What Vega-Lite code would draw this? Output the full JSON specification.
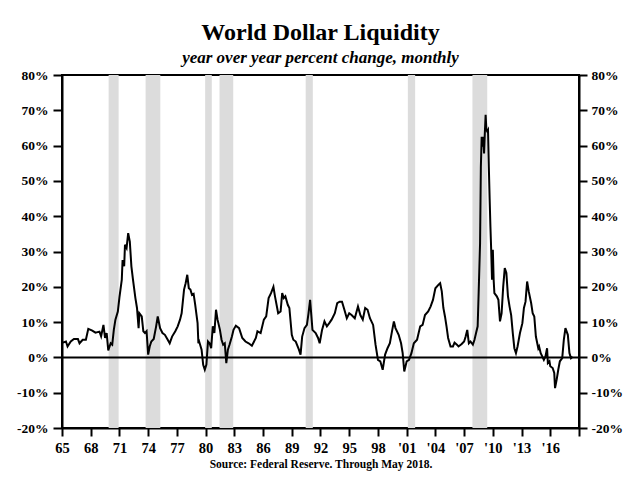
{
  "$schema": "https://vega.github.io/schema/vega-lite/v6.json",
  "width": 517,
  "height": 353,
  "autosize": {"type": "none"},
  "padding": {"left": 62, "top": 75, "right": 45, "bottom": 55},
  "background": "white",
  "config": {"view": {"stroke": "black", "strokeWidth": 2}, "font": "Liberation Serif"},
  "title": {
    "text": "World Dollar Liquidity",
    "subtitle": "year over year percent change, monthly",
    "font": "Liberation Serif", "fontSize": 24, "fontWeight": "bold", "color": "black",
    "subtitleFont": "Liberation Serif", "subtitleFontSize": 17, "subtitleFontStyle": "italic", "subtitleFontWeight": "bold", "subtitleColor": "black",
    "anchor": "middle", "offset": 2, "subtitlePadding": 5
  },
  "datasets": {
    "rec": [
      {"start": "1969-11-15", "end": "1970-12-01"},
      {"start": "1973-09-25", "end": "1975-04-10"},
      {"start": "1979-12-15", "end": "1980-08-25"},
      {"start": "1981-06-15", "end": "1982-11-20"},
      {"start": "1990-06-15", "end": "1991-03-15"},
      {"start": "2001-02-15", "end": "2001-11-20"},
      {"start": "2007-11-15", "end": "2009-06-01"}
    ],
    "series": [
      {"d":"1965-01","v":4.1},{"d":"1965-06","v":4.5},{"d":"1965-08","v":3.1},{"d":"1965-12","v":4.5},
      {"d":"1966-04","v":5.2},{"d":"1966-09","v":5.2},{"d":"1966-11","v":4.0},{"d":"1967-03","v":5.0},
      {"d":"1967-07","v":5.0},{"d":"1967-10","v":8.1},{"d":"1968-03","v":7.6},{"d":"1968-07","v":7.0},
      {"d":"1968-12","v":7.3},{"d":"1969-02","v":6.0},{"d":"1969-05","v":9.2},{"d":"1969-07","v":5.5},
      {"d":"1969-09","v":6.9},{"d":"1969-11","v":2.0},{"d":"1970-02","v":4.0},{"d":"1970-04","v":3.6},
      {"d":"1970-06","v":7.8},{"d":"1970-08","v":10.7},{"d":"1970-11","v":13.0},{"d":"1971-01","v":17.0},
      {"d":"1971-04","v":22.0},{"d":"1971-05","v":27.6},{"d":"1971-07","v":25.8},{"d":"1971-08","v":31.9},
      {"d":"1971-10","v":31.0},{"d":"1971-12","v":35.2},{"d":"1972-02","v":32.8},{"d":"1972-04","v":25.8},
      {"d":"1972-06","v":22.0},{"d":"1972-09","v":16.8},{"d":"1972-11","v":14.0},{"d":"1973-01","v":8.3},
      {"d":"1973-02","v":12.5},{"d":"1973-05","v":11.6},{"d":"1973-07","v":7.4},{"d":"1973-09","v":6.9},
      {"d":"1973-11","v":7.4},{"d":"1974-01","v":0.8},{"d":"1974-03","v":3.1},{"d":"1974-05","v":4.5},
      {"d":"1974-08","v":5.2},{"d":"1974-11","v":8.8},{"d":"1975-01","v":11.6},{"d":"1975-04","v":8.3},
      {"d":"1975-07","v":6.9},{"d":"1975-10","v":6.4},{"d":"1976-01","v":5.2},{"d":"1976-04","v":4.0},
      {"d":"1976-07","v":5.9},{"d":"1976-11","v":7.4},{"d":"1977-02","v":8.8},{"d":"1977-05","v":10.7},
      {"d":"1977-07","v":12.5},{"d":"1977-10","v":19.2},{"d":"1977-12","v":21.0},{"d":"1978-02","v":23.4},
      {"d":"1978-04","v":19.6},{"d":"1978-06","v":19.2},{"d":"1978-08","v":17.7},{"d":"1978-10","v":18.0},
      {"d":"1978-12","v":14.9},{"d":"1979-03","v":9.7},{"d":"1979-04","v":4.0},{"d":"1979-05","v":4.5},
      {"d":"1979-08","v":2.2},{"d":"1979-10","v":-2.1},{"d":"1979-12","v":-3.5},{"d":"1980-02","v":-2.0},
      {"d":"1980-04","v":4.5},{"d":"1980-06","v":4.0},{"d":"1980-08","v":2.6},{"d":"1980-10","v":8.8},
      {"d":"1980-12","v":6.9},{"d":"1981-02","v":13.5},{"d":"1981-04","v":10.7},{"d":"1981-07","v":7.8},
      {"d":"1981-09","v":5.0},{"d":"1981-11","v":3.6},{"d":"1982-01","v":4.0},{"d":"1982-03","v":-1.6},
      {"d":"1982-05","v":2.2},{"d":"1982-07","v":3.6},{"d":"1982-10","v":5.9},{"d":"1982-12","v":7.8},
      {"d":"1983-03","v":9.0},{"d":"1983-07","v":8.3},{"d":"1983-11","v":5.5},{"d":"1984-03","v":4.5},
      {"d":"1984-07","v":4.0},{"d":"1984-11","v":3.3},{"d":"1985-04","v":5.5},{"d":"1985-06","v":7.4},
      {"d":"1985-10","v":6.9},{"d":"1986-02","v":10.7},{"d":"1986-05","v":11.6},{"d":"1986-08","v":16.8},
      {"d":"1986-11","v":18.2},{"d":"1987-02","v":20.0},{"d":"1987-04","v":17.3},{"d":"1987-08","v":12.5},
      {"d":"1987-11","v":13.0},{"d":"1988-01","v":18.2},{"d":"1988-03","v":16.8},{"d":"1988-05","v":17.3},
      {"d":"1988-08","v":14.9},{"d":"1988-10","v":14.0},{"d":"1989-01","v":6.4},{"d":"1989-03","v":5.0},
      {"d":"1989-06","v":4.5},{"d":"1989-10","v":2.2},{"d":"1989-12","v":0.8},{"d":"1990-02","v":5.9},
      {"d":"1990-05","v":8.3},{"d":"1990-08","v":9.2},{"d":"1990-10","v":12.5},{"d":"1990-12","v":16.3},
      {"d":"1991-03","v":7.8},{"d":"1991-07","v":6.9},{"d":"1991-10","v":5.5},{"d":"1991-12","v":4.0},
      {"d":"1992-03","v":7.8},{"d":"1992-06","v":10.2},{"d":"1992-09","v":8.8},{"d":"1992-12","v":9.7},
      {"d":"1993-03","v":10.7},{"d":"1993-07","v":12.5},{"d":"1993-10","v":15.4},{"d":"1994-01","v":15.8},
      {"d":"1994-04","v":15.8},{"d":"1994-07","v":13.5},{"d":"1994-10","v":11.1},{"d":"1995-01","v":12.5},
      {"d":"1995-04","v":12.0},{"d":"1995-08","v":11.1},{"d":"1995-12","v":14.4},{"d":"1996-03","v":12.0},
      {"d":"1996-06","v":10.7},{"d":"1996-09","v":14.0},{"d":"1996-12","v":13.5},{"d":"1997-03","v":11.1},
      {"d":"1997-07","v":9.2},{"d":"1997-10","v":3.6},{"d":"1998-01","v":-0.7},{"d":"1998-04","v":-1.1},
      {"d":"1998-07","v":-3.5},{"d":"1998-10","v":0.8},{"d":"1999-01","v":2.6},{"d":"1999-04","v":4.0},
      {"d":"1999-07","v":7.8},{"d":"1999-09","v":10.2},{"d":"1999-11","v":8.3},{"d":"2000-03","v":6.4},
      {"d":"2000-06","v":4.0},{"d":"2000-08","v":1.2},{"d":"2000-10","v":-4.0},{"d":"2001-01","v":-1.1},
      {"d":"2001-04","v":-0.7},{"d":"2001-07","v":1.2},{"d":"2001-10","v":4.0},{"d":"2002-02","v":5.0},
      {"d":"2002-06","v":8.8},{"d":"2002-09","v":9.2},{"d":"2002-12","v":12.0},{"d":"2003-04","v":13.0},
      {"d":"2003-07","v":14.4},{"d":"2003-10","v":16.3},{"d":"2004-01","v":19.6},{"d":"2004-05","v":20.6},
      {"d":"2004-07","v":21.0},{"d":"2004-09","v":18.7},{"d":"2004-11","v":14.0},{"d":"2005-01","v":11.6},
      {"d":"2005-03","v":8.8},{"d":"2005-05","v":5.5},{"d":"2005-08","v":3.1},{"d":"2005-11","v":3.1},
      {"d":"2006-01","v":4.2},{"d":"2006-04","v":3.6},{"d":"2006-06","v":3.1},{"d":"2006-10","v":3.8},
      {"d":"2007-01","v":4.5},{"d":"2007-03","v":5.9},{"d":"2007-05","v":7.8},{"d":"2007-07","v":4.0},
      {"d":"2007-09","v":4.5},{"d":"2007-12","v":3.6},{"d":"2008-02","v":5.0},{"d":"2008-04","v":6.9},
      {"d":"2008-06","v":8.8},{"d":"2008-07","v":16.3},{"d":"2008-09","v":32.4},{"d":"2008-10","v":54.0},
      {"d":"2008-11","v":62.5},{"d":"2008-12","v":59.7},{"d":"2009-01","v":62.5},{"d":"2009-02","v":57.8},
      {"d":"2009-03","v":63.5},{"d":"2009-04","v":68.7},{"d":"2009-05","v":64.4},{"d":"2009-06","v":64.0},
      {"d":"2009-07","v":64.4},{"d":"2009-08","v":54.0},{"d":"2009-09","v":45.0},{"d":"2009-10","v":37.0},
      {"d":"2009-11","v":30.0},{"d":"2009-12","v":22.0},{"d":"2010-01","v":30.5},{"d":"2010-02","v":22.0},
      {"d":"2010-03","v":18.2},{"d":"2010-06","v":17.3},{"d":"2010-08","v":16.3},{"d":"2010-10","v":10.2},
      {"d":"2010-12","v":12.5},{"d":"2011-02","v":20.1},{"d":"2011-04","v":25.3},{"d":"2011-06","v":23.9},
      {"d":"2011-08","v":17.3},{"d":"2011-10","v":14.4},{"d":"2011-12","v":12.0},{"d":"2012-02","v":6.9},
      {"d":"2012-04","v":2.6},{"d":"2012-06","v":1.2},{"d":"2012-08","v":3.1},{"d":"2012-11","v":6.9},
      {"d":"2013-02","v":9.7},{"d":"2013-04","v":14.0},{"d":"2013-06","v":15.8},{"d":"2013-08","v":21.5},
      {"d":"2013-10","v":18.7},{"d":"2014-01","v":15.4},{"d":"2014-03","v":12.5},{"d":"2014-05","v":11.6},
      {"d":"2014-07","v":5.9},{"d":"2014-10","v":2.6},{"d":"2014-11","v":3.1},{"d":"2015-01","v":1.2},
      {"d":"2015-03","v":0.3},{"d":"2015-05","v":-0.7},{"d":"2015-07","v":0.3},{"d":"2015-09","v":2.6},
      {"d":"2015-10","v":-1.6},{"d":"2015-12","v":-1.1},{"d":"2016-01","v":-2.5},{"d":"2016-04","v":-3.0},
      {"d":"2016-06","v":-4.4},{"d":"2016-07","v":-8.7},{"d":"2016-09","v":-6.3},{"d":"2016-11","v":-3.5},
      {"d":"2017-01","v":-1.1},{"d":"2017-04","v":-0.2},{"d":"2017-06","v":5.0},{"d":"2017-08","v":8.3},
      {"d":"2017-11","v":6.4},{"d":"2018-01","v":1.2},{"d":"2018-03","v":-0.2},{"d":"2018-05","v":0.2}
    ]
  },
  "layer": [
    {
      "data": {"name": "rec"},
      "mark": {"type": "rect", "color": "#dcdcdc"},
      "encoding": {
        "x": {
          "field": "start", "type": "temporal",
          "scale": {"domain": [{"year": 1965, "month": 1, "date": 1}, {"year": 2019, "month": 1, "date": 1}]},
          "axis": {
            "title": "Source: Federal Reserve. Through May 2018.",
            "titleFont": "Liberation Serif", "titleFontWeight": "bold", "titleFontSize": 11.5, "titleColor": "black", "titlePadding": 4,
            "tickCount": {"interval": "year", "step": 3},
            "labelExpr": "year(datum.value) > 2017 ? '' : ((year(datum.value) >= 2000 ? \"'\" : '') + timeFormat(datum.value, '%y'))",
            "labelOverlap": false, "labelFlush": false, "labelBound": false, "labelSeparation": 0,
            "grid": false, "domainColor": "black", "domainWidth": 2, "tickColor": "black", "tickWidth": 2, "tickSize": 8,
            "labelFont": "Liberation Serif", "labelFontWeight": "bold", "labelFontSize": 14.5, "labelColor": "black", "labelPadding": 5
          }
        },
        "x2": {"field": "end"}
      }
    },
    {
      "data": {"values": [{"z": 0}]},
      "mark": {"type": "rule", "color": "black", "strokeWidth": 2},
      "encoding": {
        "y": {
          "field": "z", "type": "quantitative",
          "scale": {"domain": [-20, 80], "nice": false},
          "axis": {
            "orient": "right", "title": null, "values": [-20, -10, 0, 10, 20, 30, 40, 50, 60, 70, 80],
            "labelExpr": "datum.value + '%'", "grid": false, "labelOverlap": false,
            "domainColor": "black", "domainWidth": 2, "tickColor": "black", "tickWidth": 2, "tickSize": 8,
            "labelFont": "Liberation Serif", "labelFontWeight": "bold", "labelFontSize": 13.5, "labelColor": "black", "labelPadding": 4
          }
        }
      }
    },
    {
      "data": {"name": "series"},
      "mark": {"type": "line", "color": "black", "strokeWidth": 2},
      "encoding": {
        "x": {"field": "d", "type": "temporal"},
        "y": {
          "field": "v", "type": "quantitative",
          "axis": {
            "orient": "left", "title": null, "values": [-20, -10, 0, 10, 20, 30, 40, 50, 60, 70, 80],
            "labelExpr": "datum.value + '%'", "grid": false, "labelOverlap": false,
            "domainColor": "black", "domainWidth": 2, "tickColor": "black", "tickWidth": 2, "tickSize": 9,
            "labelFont": "Liberation Serif", "labelFontWeight": "bold", "labelFontSize": 13.5, "labelColor": "black", "labelPadding": 5
          }
        }
      }
    }
  ],
  "resolve": {"axis": {"y": "independent"}}
}
